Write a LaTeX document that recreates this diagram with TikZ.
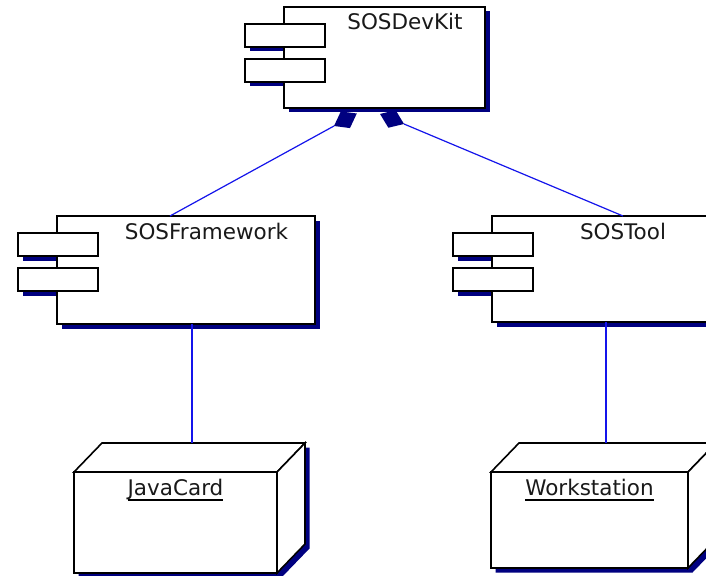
\documentclass[tikz,border=0pt]{standalone}
\usepackage{fontspec}
\setmainfont{DejaVu Sans}
\usetikzlibrary{calc,shadows}

\definecolor{navyshade}{RGB}{0,0,128}
\definecolor{linkblue}{RGB}{20,20,235}

\tikzset{
  compbox/.style={draw=black, line width=1.6pt, fill=white, inner sep=0pt, outer sep=0pt, anchor=north west},
  mainbox/.style={compbox, copy shadow={shadow xshift=4.5pt, shadow yshift=-4.5pt, draw=none, fill=navyshade}},
  tabbox/.style={compbox, minimum width=80pt, minimum height=23pt},
  nodefront/.style={compbox},
  nodeface/.style={draw=black, line width=1.6pt, fill=white, line join=miter},
  umltext/.style={font=\fontsize{21.5}{24}\selectfont, inner sep=0pt, outer sep=0pt, anchor=base, text=black!90},
  ulinestyle/.style={draw=black, line width=1.6pt},
  conn/.style={draw=linkblue, line width=1.2pt},
  diam/.style={fill=navyshade},
}

% UML component: name, x, y (top-left of body), width, height, text
\newcommand\umlcomponent[6]{%
  \fill[navyshade] ({#2-39+4.5},{#3+17+4.5}) rectangle +(80,23);
  \fill[navyshade] ({#2-39+4.5},{#3+52+4.5}) rectangle +(80,23);
  \node[mainbox, minimum width=#4pt, minimum height=#5pt] (#1) at (#2,#3) {};
  \node[tabbox] (#1-tab1) at ({#2-39},{#3+17}) {};
  \node[tabbox] (#1-tab2) at ({#2-39},{#3+52}) {};
  \node[umltext] (#1-name) at ({#2+20.5+#4/2},{#3+23}) {#6};
}

% UML deployment node (3D box): name, x, y (top-left of front face), width, height, text
\newcommand\umlnode[6]{%
  \fill[navyshade] ({#2+4.5},{#3+#5+4.5}) -- ({#2+4.5},{#3+4.5}) -- ({#2+28+4.5},{#3-29+4.5})
    -- ({#2+#4+28+4.5},{#3-29+4.5}) -- ({#2+#4+28+4.5},{#3+#5-29+4.5}) -- ({#2+#4+4.5},{#3+#5+4.5}) -- cycle;
  \node[nodefront, minimum width=#4pt, minimum height=#5pt] (#1) at (#2,#3) {};
  \draw[nodeface] (#1.north west) -- ++(28,-29) -- ++(#4,0) -- (#1.north east) -- cycle;
  \draw[nodeface] (#1.north east) -- ++(28,-29) -- ++(0,#5) -- (#1.south east) -- cycle;
  \node[umltext] (#1-name) at ({#2+#4/2},{#3+23.5}) {#6};
  \draw[ulinestyle] ($(#1-name.base west)+(0,4.5)$) -- ($(#1-name.base east)+(0,4.5)$);
}

% filled composition diamond: name, tail point, far end of the line
\newcommand\compdiamond[3]{%
  \coordinate (#1-head) at ($(#2)!-26pt!(#3)$);
  \coordinate (#1-mid) at ($(#2)!0.5!(#1-head)$);
  \fill[diam] (#2) -- ($(#1-mid)!9.5pt!90:(#1-head)$) -- (#1-head) -- ($(#1-mid)!9.5pt!-90:(#1-head)$) -- cycle;
}

\begin{document}
\begin{tikzpicture}[x=1pt,y=-1pt]
  \useasboundingbox (0,0) rectangle (706,575);
  \clip (0,0) rectangle (706,575);
  \fill[white] (0,0) rectangle (706,575);

  % components
  \umlcomponent{devkit}{284}{7}{201}{101}{SOSDevKit}
  \umlcomponent{framework}{57}{216}{258}{108}{SOSFramework}
  \umlcomponent{tool}{492}{216}{221}{106}{SOSTool}

  % deployment nodes
  \umlnode{javacard}{74}{472}{203}{101}{JavaCard}
  \umlnode{workstation}{491}{472}{197}{96}{Workstation}

  % composition links to SOSDevKit
  \coordinate (fw-port) at ($(framework.north west)+(113,0)$);
  \coordinate (tool-port) at ($(tool.north west)+(131,0)$);
  \coordinate (agg-l) at (334,126);
  \coordinate (agg-r) at (404,124);
  \draw[conn] (fw-port) -- (agg-l);
  \draw[conn] (tool-port) -- (agg-r);
  \compdiamond{dl}{agg-l}{fw-port}
  \compdiamond{dr}{agg-r}{tool-port}

  % deployment links
  \coordinate (jc-port) at (192,443);
  \coordinate (ws-port) at (606,443);
  \draw[conn] (jc-port |- framework.south) -- (jc-port);
  \draw[conn] (ws-port |- tool.south) -- (ws-port);
\end{tikzpicture}
\end{document}
